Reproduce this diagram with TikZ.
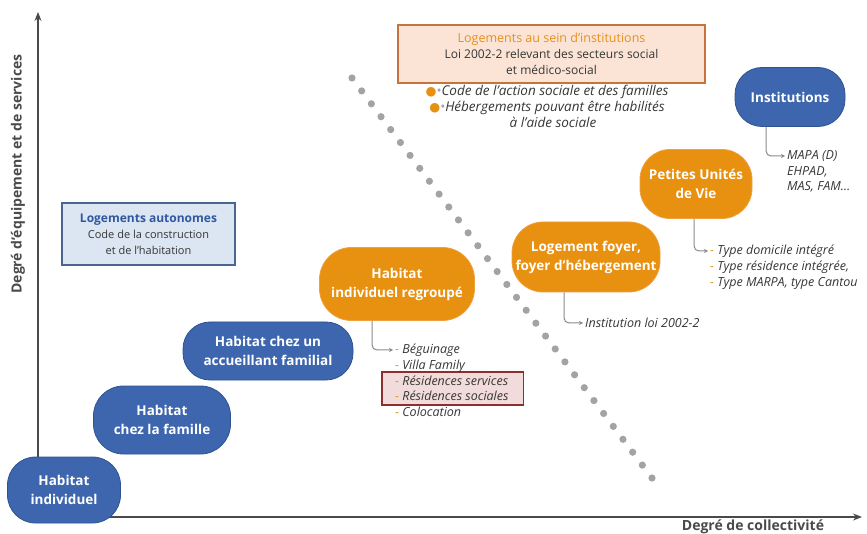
\documentclass[tikz,border=0pt]{standalone}
\usepackage{fontspec}
\setmainfont{Open Sans}
\newfontfamily\symfont{DejaVu Sans}
\usetikzlibrary{arrows.meta,fit,backgrounds}

\definecolor{nodeblue}{HTML}{3D66AE}
\definecolor{blueedge}{HTML}{2F5290}
\definecolor{nodeorange}{HTML}{E8900F}
\definecolor{orangeedge}{HTML}{EFA040}
\definecolor{axisgray}{HTML}{4A4A4A}
\definecolor{linkgray}{HTML}{8A8A8A}
\definecolor{dotgray}{HTML}{A3A3A3}
\definecolor{textgray}{HTML}{363636}
\definecolor{titleorange}{HTML}{E8901A}
\definecolor{instfill}{HTML}{FBE4D6}
\definecolor{instedge}{HTML}{C7743C}
\definecolor{autofill}{HTML}{DCE5F2}
\definecolor{autoedge}{HTML}{4A6590}
\definecolor{titleblue}{HTML}{2F58A0}
\definecolor{resfill}{HTML}{F2DCDB}
\definecolor{resedge}{HTML}{8E2F2F}

\newcommand{\od}{\textcolor{nodeorange}{-}\ }
\newcommand{\bul}{{\symfont\fontsize{12.5}{16}\selectfont\textcolor{nodeorange}{●}}\textcolor{dotgray}{•}}

\begin{document}
\begin{tikzpicture}[x=1pt,y=-1pt,
  hab/.style={draw, line width=0.8pt, text=white, align=center, inner sep=0pt,
    font=\bfseries\fontsize{13.5}{19}\selectfont},
  bluehab/.style={hab, fill=nodeblue, draw=blueedge},
  orangehab/.style={hab, fill=nodeorange, draw=orangeedge},
  item/.style={anchor=west, inner sep=0pt, text=textgray,
    font=\itshape\fontsize{12.5}{14}\selectfont},
  link/.style={draw=linkgray, line width=1pt, rounded corners=5pt,
    -{Stealth[length=4pt,width=4pt]}, shorten >=2pt},
  axis/.style={draw=axisgray, line width=1.2pt, -{Stealth[length=9pt,width=7pt]}},
  lawbox/.style={line width=1.5pt, align=center, inner sep=0pt,
    text=textgray, font=\fontsize{12}{16}\selectfont}]

\useasboundingbox (0,0) rectangle (867,534);

% axes
\coordinate (ytop) at (38,12);
\coordinate (xend) at (862,517);
\node[bluehab, minimum width=113pt, minimum height=66pt, rounded corners=28pt]
  (hi) at (64,490) {Habitat\\individuel};
\begin{scope}[on background layer]
  \draw[axis] (ytop |- hi.north) -- (ytop);
  \draw[axis] (hi.center |- xend) -- (xend);
\end{scope}
\node[rotate=90, text=axisgray, font=\bfseries\fontsize{14}{16}\selectfont]
  (ylab) at (18,174) {Degré d'équipement et de services};
\node[text=axisgray, font=\bfseries\fontsize{14}{16}\selectfont]
  (xlab) at (753,527) {Degré de collectivité};

% dotted boundary between home and institution
\foreach \i in {0,...,31}
  \fill[dotgray] ({352+300*\i/31},{78+400*\i/31}) circle (3.6pt);

% housing types
\node[bluehab, minimum width=137pt, minimum height=68pt, rounded corners=30pt]
  (hf) at (162,420) {Habitat\\chez la famille};
\node[bluehab, minimum width=170pt, minimum height=58pt, rounded corners=27pt]
  (ha) at (268,351) {Habitat chez un\\accueillant familial};
\node[orangehab, minimum width=155pt, minimum height=73pt, rounded corners=32pt]
  (hr) at (397,284) {Habitat\\individuel regroupé};
\node[orangehab, minimum width=148pt, minimum height=70pt, rounded corners=31pt]
  (lf) at (586,257) {Logement foyer,\\foyer d'hébergement};
\node[orangehab, minimum width=112pt, minimum height=69pt, rounded corners=30pt]
  (pu) at (696,184) {Petites Unités\\de Vie};
\node[bluehab, minimum width=110pt, minimum height=59pt, rounded corners=27pt]
  (in) at (790,97) {Institutions};

% legal frameworks
\node[lawbox, draw=instedge, fill=instfill, minimum width=307pt, minimum height=58pt]
  (inst) at (551.5,54)
  {{\fontsize{12.5}{16}\selectfont\textcolor{titleorange}{Logements au sein d'institutions}}\\
   Loi 2002-2 relevant des secteurs social\\et médico-social};
\node[align=center, inner sep=0pt, text=textgray,
  font=\itshape\fontsize{13.5}{16}\selectfont] (casf) at (547,106)
  {\bul Code de l'action sociale et des familles\\
   \bul Hébergements pouvant être habilités\\
   \hspace*{12pt}à l'aide sociale};
\node[lawbox, draw=autoedge, fill=autofill, minimum width=173pt, minimum height=62pt]
  (auto) at (148.5,234)
  {{\bfseries\fontsize{12}{16}\selectfont\textcolor{titleblue}{Logements autonomes}}\\
   {\fontsize{11}{16}\selectfont Code de la construction}\\
   {\fontsize{11}{16}\selectfont et de l'habitation}};

% examples for grouped individual housing
\node[item] (r1) at (395,350) {\od Béguinage};
\node[item] (r2) at (395,366) {\od Villa Family};
\node[item] (r3) at (395,381) {\od Résidences services};
\node[item] (r4) at (395,396) {\od Résidences sociales};
\node[item] (r5) at (395,412) {\od Colocation};
\begin{scope}[on background layer]
  \node[fit=(r3)(r4), draw=resedge, fill=resfill, line width=1.5pt,
    inner xsep=14pt, inner ysep=4pt, xshift=1pt] (res) {};
\end{scope}
\draw[link] ([xshift=-25pt]hr.south) |- (r1.west);

% example for residential homes
\node[item] (f1) at (585,323) {Institution loi 2002-2};
\draw[link] ([xshift=-22pt]lf.south) |- (f1.west);

% examples for small living units
\node[item] (p1) at (710,251) {\od Type domicile intégré};
\node[item] (p2) at (710,267) {\od Type résidence intégrée,};
\node[item] (p3) at (710,283) {\od Type MARPA, type Cantou};
\draw[link] ([xshift=-2pt]pu.south) |- (p1.west);

% examples for institutions
\node[item] (i1) at (787,156) {MAPA (D)};
\node[item] (i2) at (787,172) {EHPAD,};
\node[item] (i3) at (787,187) {MAS, FAM…};
\draw[link] ([xshift=-24pt]in.south) |- (i1.west);

\end{tikzpicture}
\end{document}
